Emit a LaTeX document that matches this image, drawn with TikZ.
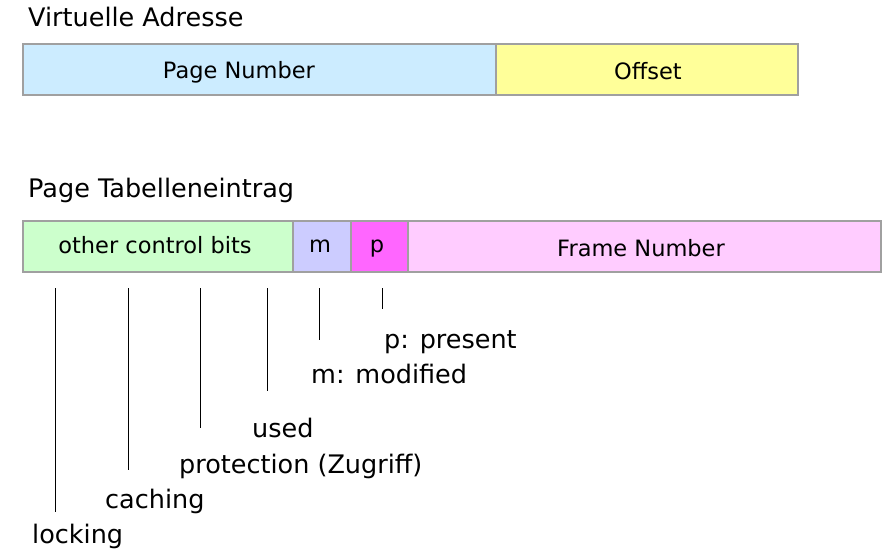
\documentclass[tikz,border=0pt]{standalone}
\usepackage{fontspec}
\setmainfont{DejaVu Sans}
\definecolor{vblue}{HTML}{CCECFF}
\definecolor{vyellow}{HTML}{FFFF99}
\definecolor{vgreen}{HTML}{CCFFCC}
\definecolor{vlav}{HTML}{CCCCFF}
\definecolor{vmag}{HTML}{FF66FF}
\definecolor{vpink}{HTML}{FFCCFF}
\definecolor{vborder}{HTML}{A0A0A0}
\tikzset{
  field/.style={draw=vborder, line width=1.2pt},
  boxtext/.style={anchor=base, inner sep=0pt, font=\fontsize{22.5}{26}\selectfont},
  lbl/.style={anchor=base west, inner sep=0pt, font=\fontsize{25.5}{30}\selectfont},
  tick/.style={line width=1pt, black}
}
\begin{document}
\begin{tikzpicture}[x=1pt,y=-1pt]
\useasboundingbox (0,0) rectangle (888,551);
% titles
\node[lbl] (t1) at (28,27) {Virtuelle Adresse};
\node[lbl] (t2) at (28,197) {Page Tabelleneintrag};
% virtual address
\path[field, fill=vblue] (23,44) rectangle (496,95);
\path[field, fill=vyellow] (496,44) rectangle (798,95);
\node[boxtext] (pn) at (239,78) {Page Number};
\node[boxtext] (off) at (648,79) {Offset};
% page table entry
\path[field, fill=vgreen] (23,221) rectangle (293,272);
\path[field, fill=vlav] (293,221) rectangle (351,272);
\path[field, fill=vmag] (351,221) rectangle (408,272);
\path[field, fill=vpink] (408,221) rectangle (881,272);
\node[boxtext] (ocb) at (155,253) {other control bits};
\node[boxtext] (mb) at (320,252) {m};
\node[boxtext] (pb) at (377,252) {p};
\node[boxtext] (fn) at (641,256) {Frame Number};
% labels
\node[lbl] (lp) at (384,348) {p: present};
\node[lbl] (lm) at (311,383) {m: modified};
\node[lbl] (lu) at (252,437) {used};
\node[lbl] (lpr) at (179,473) {protection (Zugriff)};
\node[lbl] (lc) at (105,508) {caching};
\node[lbl] (ll) at (32,543) {locking};
% ticks
\coordinate (a1) at (55,288);  \coordinate (b1) at (55,512);
\coordinate (a2) at (128,288); \coordinate (b2) at (128,470);
\coordinate (a3) at (200,288); \coordinate (b3) at (200,428);
\coordinate (a4) at (267,288); \coordinate (b4) at (267,391);
\coordinate (a5) at (319,288); \coordinate (b5) at (319,340);
\coordinate (a6) at (382,288); \coordinate (b6) at (382,309);
\draw[tick] (a1) -- (b1);
\draw[tick] (a2) -- (b2);
\draw[tick] (a3) -- (b3);
\draw[tick] (a4) -- (b4);
\draw[tick] (a5) -- (b5);
\draw[tick] (a6) -- (b6);
\end{tikzpicture}
\end{document}
